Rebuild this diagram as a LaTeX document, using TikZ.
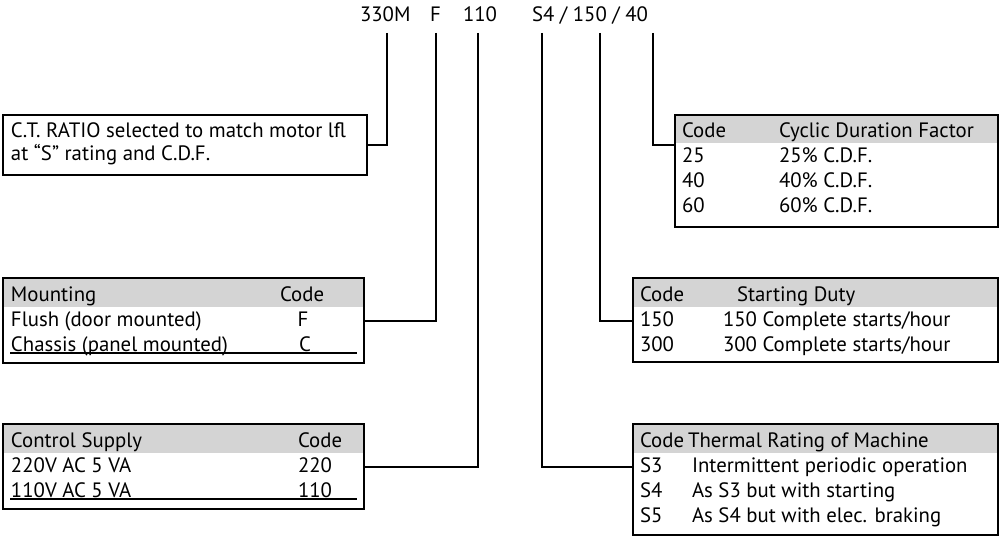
\documentclass[tikz,border=0pt]{standalone}
\usepackage{fontspec}
\setmainfont{PT Sans}
\newcommand\fsz{\fontsize{15.6}{18}\selectfont}
\tikzset{
  boxst/.style={draw, rectangle, line width=1.5pt, inner sep=0pt, outer sep=0pt},
  hdr/.style={fill=black!17},
  conn/.style={line width=1.5pt},
  uline/.style={line width=1.1pt},
  txt/.style={anchor=base west, inner sep=0pt, outer sep=0pt, font=\fsz},
  ctx/.style={anchor=base, inner sep=0pt, outer sep=0pt, font=\fsz},
}
\newcommand\myplainbox[5]{%
  \node[boxst, minimum width={(#4-#2)*0.75pt}, minimum height={(#5-#3)*0.75pt}] (#1) at ({(#2+#4)/2},{(#3+#5)/2}) {};}
\newcommand\myhdrbox[5]{%
  \fill[hdr] (#2,#3) rectangle (#4,{#3+28.5});
  \myplainbox{#1}{#2}{#3}{#4}{#5}}
\begin{document}
\begin{tikzpicture}[x=0.75pt,y=-0.75pt]
\useasboundingbox (0,0) rectangle (1002,538);
% top code
\node[txt] (c330) at (360,22) {330M};
\node[txt] (cF) at (430,22) {F};
\node[txt] (c110) at (463,22) {110};
\node[txt] (cS) at (532,22) {S4 / 150 / 40};
\coordinate (k330) at (387,33);
\coordinate (kF) at (436,33);
\coordinate (k110) at (478,33);
\coordinate (kS4) at (542,33);
\coordinate (k150) at (600,33);
\coordinate (k40) at (653,33);
% boxes
\myplainbox{ct}{3}{115}{367}{175}
\myhdrbox{mnt}{3}{278}{364}{363}
\myhdrbox{cs}{3}{424}{364}{509}
\myhdrbox{cdf}{675}{115}{998}{227}
\myhdrbox{sd}{633}{278}{998}{362}
\myhdrbox{th}{633}{424}{998}{535}
% connectors
\draw[conn] (k330) |- (ct.east);
\draw[conn] (kF) |- (mnt.east);
\draw[conn] (k110) |- (cs.east);
\draw[conn] (k40) |- (cdf.west |- ct.east);
\draw[conn] (k150) |- (sd.west |- mnt.east);
\draw[conn] (kS4) |- (th.west |- cs.east);
% CT text
\node[txt] (ct1) at (11,138) {C.T. RATIO selected to match motor lfl};
\node[txt] (ct2) at (11,161) {at “S” rating and C.D.F.};
% Mounting
\node[txt] (m0) at (11,301) {Mounting};
\node[txt] (m0c) at (280,301) {Code};
\node[txt] (m1) at (11,326) {Flush (door mounted)};
\node[ctx] (m1c) at (303,326) {F};
\node[txt] (m2) at (11,351) {Chassis (panel mounted)};
\node[ctx] (m2c) at (305,351) {C};
\draw[uline] (10,353) -- (357,353);
% Control supply
\node[txt] (s0) at (11,447) {Control Supply};
\node[txt] (s0c) at (298,447) {Code};
\node[txt] (s1) at (11,472) {220V AC 5 VA};
\node[txt] (s1c) at (298,472) {220};
\node[txt] (s2) at (11,497) {110V AC 5 VA};
\node[txt] (s2c) at (298,497) {110};
\draw[uline] (10,499) -- (357,499);
% CDF
\node[txt] (d0) at (682,138) {Code};
\node[txt] (d0t) at (779,138) {Cyclic Duration Factor};
\node[txt] (d1) at (682,163) {25};
\node[txt] (d1t) at (779,163) {25\% C.D.F.};
\node[txt] (d2) at (682,188) {40};
\node[txt] (d2t) at (779,188) {40\% C.D.F.};
\node[txt] (d3) at (682,213) {60};
\node[txt] (d3t) at (779,213) {60\% C.D.F.};
% Starting duty
\node[txt] (u0) at (640,301) {Code};
\node[txt] (u0t) at (737,301) {Starting Duty};
\node[txt] (u1) at (640,326) {150};
\node[txt] (u1t) at (723,326) {150 Complete starts/hour};
\node[txt] (u2) at (640,351) {300};
\node[txt] (u2t) at (723,351) {300 Complete starts/hour};
% Thermal
\node[txt] (h0) at (640,447) {Code};
\node[txt] (h0t) at (688,447) {Thermal Rating of Machine};
\node[txt] (h1) at (640,472) {S3};
\node[txt] (h1t) at (692,472) {Intermittent periodic operation};
\node[txt] (h2) at (640,497) {S4};
\node[txt] (h2t) at (692,497) {As S3 but with starting};
\node[txt] (h3) at (640,522) {S5};
\node[txt] (h3t) at (692,522) {As S4 but with elec. braking};
\end{tikzpicture}
\end{document}
